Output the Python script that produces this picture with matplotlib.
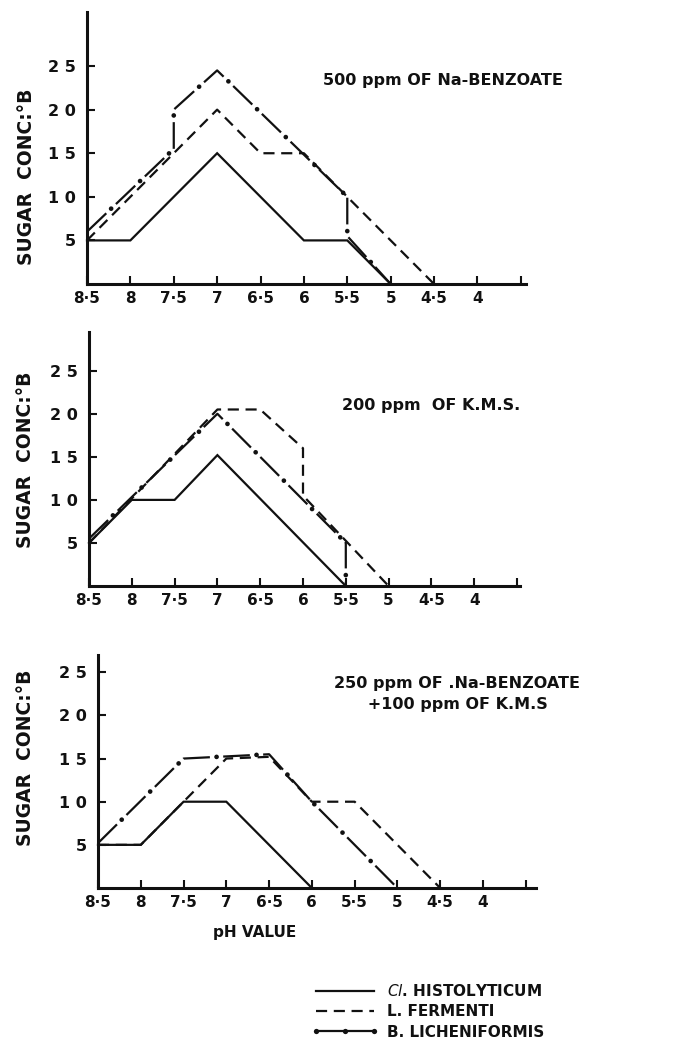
import matplotlib
matplotlib.use("Agg")
import matplotlib.pyplot as plt
from matplotlib.lines import Line2D

# ---------------- data ----------------
ph_ticks = [8.5, 8, 7.5, 7, 6.5, 6, 5.5, 5, 4.5, 4, 3.5]
ph_labels = ["8·5", "8", "7·5", "7", "6·5", "6", "5·5", "5", "4·5", "4", ""]
conc_ticks = [5, 10, 15, 20, 25]
conc_labels = ["5", "1 0", "1 5", "2 0", "2 5"]

titles = ["500 ppm OF Na-BENZOATE",
          "200 ppm  OF K.M.S.",
          "250 ppm OF .Na-BENZOATE\n      +100 ppm OF K.M.S"]
series_names = [r"$\mathit{Cl}$. HISTOLYTICUM", "L. FERMENTI", "B. LICHENIFORMIS"]

# panel 1 : 500 ppm Na-benzoate
p1_hist_x = [8.5, 8, 7, 6, 5.5, 5]
p1_hist_y = [5, 5, 15, 5, 5, 0]
p1_ferm_x = [8.5, 7, 6.5, 6, 4.5]
p1_ferm_y = [5, 20, 15, 15, 0]
p1_lich_x = [8.5, 7.5, 7.5, 7, 5.5, 5.5, 5]
p1_lich_y = [6, 15.5, 20, 24.5, 10, 5.5, 0]

# panel 2 : 200 ppm K.M.S.
p2_hist_x = [8.5, 8, 7.5, 7, 5.5]
p2_hist_y = [5, 10, 10, 15.2, 0]
p2_ferm_x = [8.5, 7, 6.5, 6, 6, 5]
p2_ferm_y = [5, 20.5, 20.5, 16, 10.5, 0]
p2_lich_x = [8.5, 7, 5.5, 5.5]
p2_lich_y = [5.5, 20, 5, 0]

# panel 3 : 250 ppm Na-benzoate + 100 ppm K.M.S.
p3_hist_x = [8.5, 8, 7.5, 7, 6]
p3_hist_y = [5, 5, 10, 10, 0]
p3_ferm_x = [8.5, 8, 7, 6.5, 6, 5.5, 4.5]
p3_ferm_y = [5, 5, 15, 15.2, 10, 10, 0]
p3_lich_x = [8.5, 7.5, 6.5, 6, 5]
p3_lich_y = [5.2, 15, 15.5, 10, 0]

panels = [
    (p1_hist_x, p1_hist_y, p1_ferm_x, p1_ferm_y, p1_lich_x, p1_lich_y),
    (p2_hist_x, p2_hist_y, p2_ferm_x, p2_ferm_y, p2_lich_x, p2_lich_y),
    (p3_hist_x, p3_hist_y, p3_ferm_x, p3_ferm_y, p3_lich_x, p3_lich_y),
]

# ---------------- layout (pixels) ----------------
W, H = 677, 1055
fig = plt.figure(figsize=(W / 100, H / 100), dpi=100)
fig.patch.set_facecolor("white")

# left, right, bottom, top in px ; xmax, ymax in data units
boxes = [
    (87, 526, 284, 12, 3.44, 31.2),
    (89, 520, 586, 332, 3.465, 29.5),
    (98, 536, 888, 655, 3.38, 27.0),
]
title_pos = [(323, 80), (342, 405), (334, 694)]
ylabel_pos = [(27, 177), (26, 460), (26, 758)]

FONT = "DejaVu Sans"
INK = "#111111"
LW = 1.6
DOT_LW = 3.4


def dashdot_styles(on, off):
    """dash style for the line and the matching dot style (dot centred in gap)."""
    period_pt = (on + off) * LW
    dot_pos_pt = (on + off / 2) * LW
    line_style = (0, (on, off))
    dot_off = (period_pt - dot_pos_pt) / DOT_LW
    dot_style = (dot_off, (0.01, period_pt / DOT_LW - 0.01))
    return line_style, dot_style


PLOT_DD = dashdot_styles(12, 6)


def dashdot(ax, x, y):
    ls, ds = PLOT_DD
    a, = ax.plot(x, y, color=INK, lw=LW, linestyle=ls, dash_capstyle="butt")
    b, = ax.plot(x, y, color=INK, lw=DOT_LW, linestyle=ds, dash_capstyle="round")
    return a, b


for i, (box, data) in enumerate(zip(boxes, panels)):
    l, r, b, t, xmax, ymax = box
    ax = fig.add_axes([l / W, 1 - b / H, (r - l) / W, (b - t) / H])
    hx, hy, fx, fy, lx, ly = data
    ax.plot(hx, hy, color=INK, lw=LW, solid_joinstyle="miter")
    ax.plot(fx, fy, color=INK, lw=LW, linestyle=(0, (5, 3)))
    dashdot(ax, lx, ly)

    ax.set_xlim(8.5, xmax)
    ax.set_ylim(0, ymax)
    ax.set_xticks(ph_ticks)
    ax.set_xticklabels(ph_labels, fontsize=11, fontweight="bold", family=FONT)
    ax.set_yticks(conc_ticks)
    ax.set_yticklabels(conc_labels, fontsize=11.5, fontweight="bold", family=FONT)
    ax.tick_params(axis="x", direction="in", length=6, width=1.5, pad=5, colors=INK)
    ax.tick_params(axis="y", direction="in", length=6, width=1.5, pad=8, colors=INK)
    for s in ("top", "right"):
        ax.spines[s].set_visible(False)
    for s in ("left", "bottom"):
        ax.spines[s].set_linewidth(2.2)
        ax.spines[s].set_color(INK)
    ax.patch.set_alpha(0)
    for ln in ax.lines:
        ln.set_clip_on(False)

    tx, ty = title_pos[i]
    fig.text(tx / W, 1 - ty / H, titles[i], fontsize=11.5, fontweight="bold",
             family=FONT, ha="left", va="center", color=INK, linespacing=1.45)
    yx, yy = ylabel_pos[i]
    fig.text(yx / W, 1 - yy / H, "SUGAR  CONC:°B", rotation=90, fontsize=13.5,
             fontweight="bold", family=FONT, ha="center", va="center", color=INK)

fig.text(255 / W, 1 - 933 / H, "pH VALUE", fontsize=11, fontweight="bold",
         family=FONT, ha="center", va="center", color=INK)

# legend proxies
leg_solid = Line2D([], [], color=INK, lw=LW)
leg_dash = Line2D([], [], color=INK, lw=LW, linestyle=(0, (5, 3)))
leg_dd = Line2D([], [], color=INK, lw=LW, linestyle="-",
                marker="o", markersize=3.8, markeredgewidth=0)

leg = fig.legend(handles=[leg_solid, leg_dash, leg_dd],
                 labels=series_names, numpoints=3,
                 loc="upper left", bbox_to_anchor=(311 / W, 1 - 983 / H),
                 frameon=False, handlelength=4.4, handletextpad=0.6,
                 labelspacing=0.35, borderaxespad=0, borderpad=0,
                 prop={"family": FONT, "weight": "bold", "size": 11})
for txt in leg.get_texts():
    txt.set_color(INK)

fig.savefig("out.png", dpi=100, facecolor="white")
